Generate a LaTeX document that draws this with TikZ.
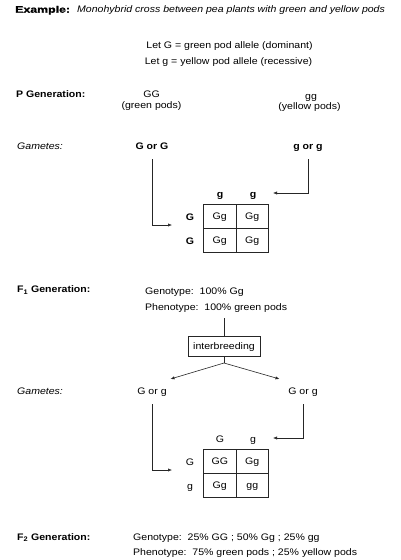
\documentclass[tikz,border=0pt]{standalone}
\usepackage{fontspec}
\setmainfont{Liberation Sans}[FakeStretch=1.11]
\newfontfamily\heavyfont{Liberation Sans Bold}[FakeStretch=1.3,FakeBold=1.2]
\usetikzlibrary{arrows.meta}
\begin{document}
\begin{tikzpicture}[x=1pt,y=-1pt,
  every node/.style={font=\fontsize{9.5}{11}\selectfont},
  txt/.style={inner sep=0pt, anchor=base},
  lbl/.style={inner sep=0pt, anchor=base west},
  hdr/.style={lbl, font=\fontsize{9.5}{11}\selectfont\bfseries},
  gam/.style={lbl, font=\fontsize{9.5}{11}\selectfont\itshape},
  bld/.style={txt, font=\fontsize{9.5}{11}\selectfont\bfseries},
  cell/.style={draw=black!85, line width=0.6pt, minimum width=32.5pt, minimum height=24pt, inner sep=0pt, text height=6.6pt, text depth=0pt},
  conn/.style={draw=black!85, line width=0.6pt},
  arr/.style={conn, -{Latex[length=4pt,width=3.2pt]}}]
\useasboundingbox (0,0) rectangle (400,560);
\fill[white] (0,0) rectangle (400,560);

% title
\node[lbl, font=\heavyfont\fontsize{9.5}{11}\selectfont] (ex) at (15,12.7) {Example:};
\node[lbl, font=\fontsize{9.5}{11}\selectfont\itshape] (extitle) at (77,12.7) {Monohybrid cross between pea plants with green and yellow pods};

\node[txt] (let1) at (229.5,48.3) {Let G = green pod allele (dominant)};
\node[txt] (let2) at (228.5,64.3) {Let g = yellow pod allele (recessive)};

% P generation
\node[hdr] (pgen) at (16,97.3) {P Generation:};
\node[txt] (pGG) at (151.5,97.3) {GG};
\node[txt] (pGGt) at (151.5,108.5) {(green pods)};
\node[txt] (pgg) at (311,99.3) {gg};
\node[txt] (pggt) at (309.5,109.5) {(yellow pods)};

% gametes 1
\node[gam] (gam1) at (17,149) {Gametes:};
\node[bld] (gA) at (152,149) {G or G};
\node[bld] (gB) at (308,149) {g or g};

% Punnett 1
\node[bld] (h1a) at (220,197) {g};
\node[bld] (h1b) at (253,197) {g};
\node[bld] (r1a) at (190,220) {G};
\node[bld] (r1b) at (190,244) {G};
\node[cell] (c11) at (219.75,216) {Gg};
\node[cell] (c12) at (252.25,216) {Gg};
\node[cell] (c21) at (219.75,240) {Gg};
\node[cell] (c22) at (252.25,240) {Gg};

\coordinate (pA) at (172,225);
\coordinate (pB) at (273,193);
\draw[arr] ([yshift=-10pt]gA.base) |- (pA);
\draw[arr] ([yshift=-10pt]gB.base) |- (pB);

% F1 generation
\node[hdr] (f1gen) at (17,292.7) {F\textsubscript{1} Generation:};
\node[lbl] (f1geno) at (145,294) {Genotype:\ \ 100\% Gg};
\node[lbl] (f1pheno) at (145,310) {Phenotype:\ \ 100\% green pods};

\coordinate (f1s) at (224,318);
\node[draw=black!85, line width=0.6pt, minimum width=72pt, minimum height=20pt, inner sep=0pt, text height=7pt, text depth=0pt] (ib) at (224,346) {interbreeding};
\draw[conn] (f1s) -- (ib.north);
\coordinate (split) at (224,363);
\coordinate (sL) at (170.5,379);
\coordinate (sR) at (279.5,379);
\draw[conn] (ib.south) -- (split);
\draw[arr] (split) -- (sL);
\draw[arr] (split) -- (sR);

% gametes 2
\node[gam] (gam2) at (17,394.3) {Gametes:};
\node[txt] (gC) at (152,394.3) {G or g};
\node[txt] (gD) at (303,394.3) {G or g};

% Punnett 2
\node[txt] (h2a) at (220,442.7) {G};
\node[txt] (h2b) at (253,442.7) {g};
\node[txt] (r2a) at (190,465) {G};
\node[txt] (r2b) at (190,489) {g};
\node[cell] (d11) at (219.75,461) {GG};
\node[cell] (d12) at (252.25,461) {Gg};
\node[cell] (d21) at (219.75,485) {Gg};
\node[cell] (d22) at (252.25,485) {gg};

\coordinate (pC) at (172,470);
\coordinate (pD) at (273,438);
\draw[arr] ([yshift=-10pt]gC.base) |- (pC);
\draw[arr] ([yshift=-10pt]gD.base) |- (pD);

% F2 generation
\node[hdr] (f2gen) at (17,540) {F\textsubscript{2} Generation:};
\node[lbl] (f2geno) at (133,540) {Genotype:\ \ 25\% GG ; 50\% Gg ; 25\% gg};
\node[lbl] (f2pheno) at (133,555.7) {Phenotype:\ \ 75\% green pods ; 25\% yellow pods};
\end{tikzpicture}
\end{document}
